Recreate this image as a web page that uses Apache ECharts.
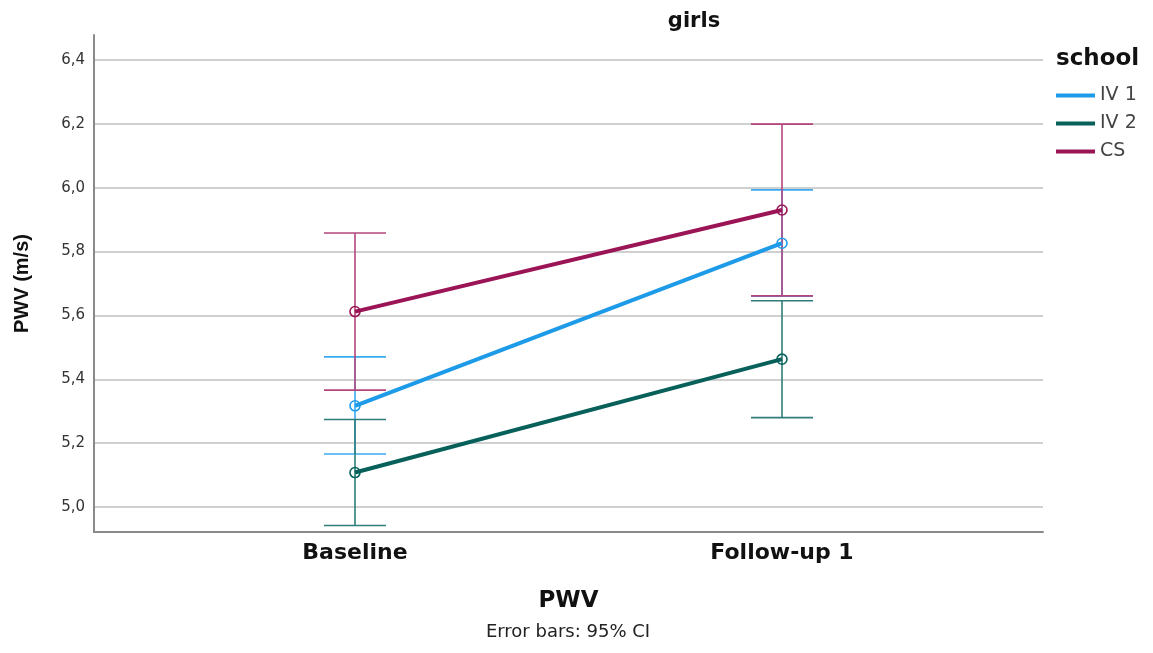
<!DOCTYPE html>
<html>
<head>
<meta charset="utf-8">
<script src="https://cdn.jsdelivr.net/npm/echarts@6/dist/echarts.min.js"></script>
<style>
html,body{margin:0;padding:0;background:#fff;}
#chart{width:1153px;height:653px;}
</style>
</head>
<body>
<div id="chart"></div>
<script>
// ---- data ----
const categories = ['Baseline', 'Follow-up 1'];
const schools = ['IV 1', 'IV 2', 'CS'];
const meanIV1 = [5.317, 5.826];
const lowIV1  = [5.166, 5.660];
const highIV1 = [5.470, 5.993];
const meanIV2 = [5.108, 5.463];
const lowIV2  = [4.942, 5.280];
const highIV2 = [5.274, 5.646];
const meanCS  = [5.612, 5.930];
const lowCS   = [5.366, 5.661];
const highCS  = [5.858, 6.199];
const yTicks = [5.0, 5.2, 5.4, 5.6, 5.8, 6.0, 6.2, 6.4];

const lineColors = ['#1e9be8', '#07605a', '#9b1456'];
const barColors  = ['#3aaaf0', '#2e7d78', '#b5467d'];
const FONT = '"DejaVu Sans", Verdana, sans-serif';
const FONT2 = '"Liberation Sans", Arial, sans-serif';

const means = [meanIV1, meanIV2, meanCS];
const lows = [lowIV1, lowIV2, lowCS];
const highs = [highIV1, highIV2, highCS];

const chart = echarts.init(document.getElementById('chart'), null, {renderer: 'canvas'});

const series = [];
schools.forEach((s, i) => {
  series.push({
    type: 'custom',
    name: s + ' CI',
    z: 1,
    silent: true,
    data: categories.map((c, j) => [j, lows[i][j], highs[i][j]]),
    renderItem: function (params, api) {
      const x = api.value(0);
      const lo = api.coord([x, api.value(1)]);
      const hi = api.coord([x, api.value(2)]);
      const hw = 31;
      const st = {stroke: barColors[i], lineWidth: 1.6};
      return {
        type: 'group',
        children: [
          {type: 'line', shape: {x1: lo[0], y1: lo[1], x2: hi[0], y2: hi[1]}, style: st},
          {type: 'line', shape: {x1: lo[0] - hw, y1: lo[1], x2: lo[0] + hw, y2: lo[1]}, style: st},
          {type: 'line', shape: {x1: hi[0] - hw, y1: hi[1], x2: hi[0] + hw, y2: hi[1]}, style: st}
        ]
      };
    }
  });
});
schools.forEach((s, i) => {
  series.push({
    type: 'line',
    name: s,
    z: 3,
    data: categories.map((c, j) => [j, means[i][j]]),
    symbol: 'circle',
    symbolSize: 10,
    lineStyle: {width: 4, color: lineColors[i]},
    itemStyle: {color: 'rgba(255,255,255,0)', borderColor: lineColors[i], borderWidth: 1.6},
    emphasis: {disabled: true}
  });
});

chart.setOption({
  animation: false,
  backgroundColor: '#fff',
  title: [
    {text: 'girls', left: 689, top: 6, textAlign: 'center',
     textStyle: {fontFamily: FONT, fontWeight: 'bold', fontSize: 21, color: '#111'}},
    {text: 'school', left: 1056, top: 48, padding: 0,
     textStyle: {fontFamily: FONT, fontWeight: 'bold', fontSize: 23, color: '#111'}}
  ],
  legend: {
    data: schools.map((s, i) => ({name: s, itemStyle: {color: lineColors[i], borderWidth: 0}})),
    orient: 'vertical',
    left: 1056,
    top: 86,
    padding: 0,
    itemWidth: 39,
    itemHeight: 4,
    itemGap: 9,
    icon: 'rect',
    textStyle: {fontFamily: FONT, fontSize: 19, color: '#444', padding: [0, 0, 0, 0]},
    selectedMode: false
  },
  graphic: [
    {type: 'text', x: 568, y: 632, style: {text: 'Error bars: 95% CI', font: '18px ' + FONT, fill: '#222', textAlign: 'center', textVerticalAlign: 'middle'}}
  ],
  grid: {left: 94, right: 110, top: 35, bottom: 121},
  xAxis: {
    type: 'value',
    min: -0.6112,
    max: 1.6112,
    name: 'PWV',
    nameLocation: 'middle',
    nameGap: 58,
    nameTextStyle: {fontFamily: FONT, fontWeight: 'bold', fontSize: 23, color: '#111'},
    axisLine: {show: true, onZero: false, lineStyle: {color: '#8a8a8a', width: 2}},
    axisTick: {show: false, customValues: [0, 1]},
    splitLine: {show: false},
    axisLabel: {
      customValues: [0, 1],
      formatter: v => categories[Math.round(v)],
      fontFamily: FONT, fontWeight: 'bold', fontSize: 22, color: '#111', margin: 10
    }
  },
  yAxis: {
    type: 'value',
    min: 4.9218,
    max: 6.478,
    name: 'PWV (m/s)',
    nameLocation: 'middle',
    nameGap: 62,
    nameTextStyle: {fontFamily: FONT2, fontWeight: 'bold', fontSize: 20, color: '#111'},
    axisLine: {show: true, onZero: false, lineStyle: {color: '#8a8a8a', width: 2}},
    axisTick: {show: false, customValues: yTicks},
    splitLine: {show: true, lineStyle: {color: '#d0d0d0', width: 2}},
    axisLabel: {
      customValues: yTicks,
      formatter: v => v.toFixed(1).replace('.', ','),
      fontFamily: FONT, fontSize: 15, color: '#333', margin: 9
    }
  },
  series: series
});
</script>
</body>
</html>
